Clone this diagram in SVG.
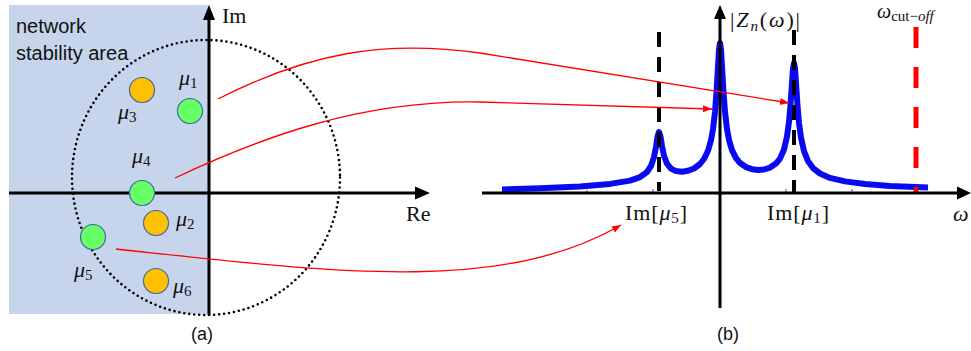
<svg xmlns="http://www.w3.org/2000/svg" width="971" height="351" viewBox="0 0 971 351">
<defs>
<style>
.sans{font-family:"Liberation Sans","Open Sans",sans-serif;fill:#111}
.math{font-family:"Liberation Serif","DejaVu Serif",serif;fill:#111}
.it{font-style:italic}
.axis{stroke:#000;stroke-width:3;fill:none}
.orange{fill:#ffc000;stroke:#3a68a8;stroke-width:1.2}
.green{fill:#66ff66;stroke:#3a68a8;stroke-width:1.2}
.conn{fill:none;stroke:#ff0000;stroke-width:1.3}
.kdash{stroke:#000;stroke-width:4;stroke-dasharray:15,10;fill:none}
.tick{stroke:#555;stroke-width:1;fill:none}
</style>
<marker id="ah" markerUnits="userSpaceOnUse" markerWidth="10" markerHeight="8" refX="9" refY="3.5" orient="auto">
<path d="M0,0 L9,3.5 L0,7 z" fill="#ff0000"/>
</marker>
</defs>
<rect width="971" height="351" fill="#ffffff"/>

<g id="panel-a">
<rect x="9" y="5" width="200" height="309" fill="#c7d5ec"/>
<text class="sans" x="16" y="33" font-size="20">network</text>
<text class="sans" x="16" y="60" font-size="20">stability area</text>
<ellipse cx="206" cy="177.5" rx="134" ry="137.5" fill="none" stroke="#000" stroke-width="2.6" stroke-linecap="round" stroke-dasharray="0,5"/>
<line class="axis" x1="209" y1="18" x2="209" y2="315"/>
<polygon points="209,5 203,20 215,20" fill="#000"/>
<line class="axis" x1="9" y1="193" x2="417" y2="193"/>
<polygon points="430,193 415,186.5 415,199.5" fill="#000"/>
<text class="math" x="222" y="23" font-size="22">Im</text>
<text class="math" x="406" y="221" font-size="22">Re</text>
<text class="sans" x="202" y="340" font-size="18" text-anchor="middle">(a)</text>
</g>

<g id="mu3"><circle class="orange" cx="142" cy="90" r="12.5"/><text class="math" x="118" y="119" font-size="22"><tspan class="it">μ</tspan><tspan font-size="15" dy="3">3</tspan></text></g>
<g id="mu1"><circle class="green" cx="190" cy="111" r="12.5"/><text class="math" x="179" y="85" font-size="22"><tspan class="it">μ</tspan><tspan font-size="15" dy="3">1</tspan></text></g>
<g id="mu4"><circle class="green" cx="142" cy="193" r="12.5"/><text class="math" x="132" y="163" font-size="22"><tspan class="it">μ</tspan><tspan font-size="15" dy="3">4</tspan></text></g>
<g id="mu2"><circle class="orange" cx="156" cy="223" r="12.5"/><text class="math" x="176" y="226" font-size="22"><tspan class="it">μ</tspan><tspan font-size="15" dy="3">2</tspan></text></g>
<g id="mu5"><circle class="green" cx="93" cy="237" r="12.5"/><text class="math" x="74" y="277" font-size="22"><tspan class="it">μ</tspan><tspan font-size="15" dy="3">5</tspan></text></g>
<g id="mu6"><circle class="orange" cx="156" cy="281" r="12.5"/><text class="math" x="173" y="293" font-size="22"><tspan class="it">μ</tspan><tspan font-size="15" dy="3">6</tspan></text></g>

<g id="panel-b">
<g id="ticks">
<line class="tick" x1="520" y1="190" x2="520" y2="193"/>
<line class="tick" x1="587" y1="190" x2="587" y2="193"/>
<line class="tick" x1="653" y1="189" x2="653" y2="193"/>
<line class="tick" x1="786" y1="189" x2="786" y2="193"/>
<line class="tick" x1="852" y1="189" x2="852" y2="193"/>
<line class="tick" x1="917" y1="189" x2="917" y2="193"/>
</g>
<polyline id="response" fill="none" stroke="#0a0af0" stroke-width="6" stroke-linejoin="round" points="502,189.5 540,188.2 580,186.4 610,183.9 630,180.6 640,177.1 647,172 651,166 654,157.1 656,146.8 657.5,136.9 659,132 660.5,136.5 662,146 664,155.8 667,163.7 671,168.6 676,171.1 682,171.7 688,170.8 694,168.5 700,164 704,159 708,150.8 711,140.3 713,129.2 715,112 716.5,92.4 718,66.5 719,49.8 720,43 721,49.7 722,66.3 723.5,92.2 725,111.7 727,128.9 729,139.8 732,150.2 736,158.2 740,163 746,167.1 752,169.2 758,169.9 764,169.5 770,167.6 776,163.6 780,158.6 784,149.5 787,136.5 789,121.9 790.5,105 792,82.7 793,68.3 794,63 795,68.4 796,83 797.5,105.6 799,122.8 801,137.7 804,151.2 808,161.1 813,168.1 820,173.5 830,177.9 845,181.4 865,184 890,185.9 928,187.6"/>
<line class="kdash" x1="659" y1="32" x2="659" y2="191"/>
<line class="kdash" x1="794" y1="30" x2="794" y2="193"/>
<line x1="916" y1="27" x2="916" y2="192" stroke="#ff0000" stroke-width="5" stroke-dasharray="21,19"/>
<line class="axis" x1="482" y1="193" x2="960" y2="193"/>
<polygon points="971,193 957,186.5 957,199.5" fill="#000"/>
<line class="axis" x1="720" y1="17" x2="720" y2="308"/>
<polygon points="720,5 714,19 726,19" fill="#000"/>
<text class="math" x="730" y="27" font-size="22" textLength="70" lengthAdjust="spacing">|<tspan class="it">Z</tspan><tspan class="it" font-size="15" dy="4">n</tspan><tspan dy="-4">(</tspan><tspan class="it">ω</tspan>)|</text>
<text class="math" x="877" y="18" font-size="20"><tspan class="it">ω</tspan><tspan font-size="15" dy="3">cut−</tspan><tspan class="it" font-size="15">off</tspan></text>
<text class="math" x="625" y="220" font-size="22" textLength="62" lengthAdjust="spacing">Im[<tspan class="it">μ</tspan><tspan font-size="15" dy="3">5</tspan><tspan dy="-3">]</tspan></text>
<text class="math" x="767" y="220" font-size="22" textLength="62" lengthAdjust="spacing">Im[<tspan class="it">μ</tspan><tspan font-size="15" dy="3">1</tspan><tspan dy="-3">]</tspan></text>
<text class="math it" x="953" y="221" font-size="22">ω</text>
<text class="sans" x="728" y="340" font-size="18" text-anchor="middle">(b)</text>
</g>

<g id="connectors">
<path class="conn" marker-end="url(#ah)" d="M218,99 C310,52 385,40 480,53 L789,103"/>
<path class="conn" marker-end="url(#ah)" d="M175,178 C260,138 360,100 480,102 L712,109"/>
<path class="conn" marker-end="url(#ah)" d="M116,249 C330,272 500,295 621,225"/>
</g>
</svg>
